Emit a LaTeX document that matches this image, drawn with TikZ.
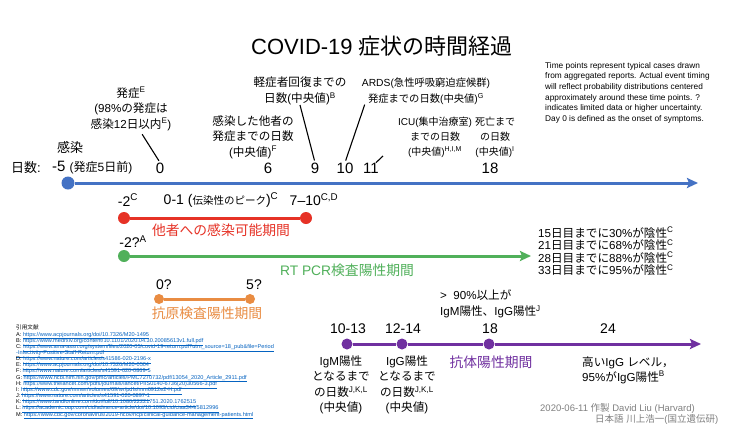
\documentclass[tikz,border=0pt]{standalone}
\usepackage{fontspec}
\setmainfont{Liberation Sans}
\newfontfamily\jpfont{Noto Sans CJK JP}
\newcommand\enfont{\rmfamily}
\usetikzlibrary{arrows.meta}

\definecolor{tlblue}{RGB}{68,114,196}
\definecolor{infred}{RGB}{230,50,38}
\definecolor{pcrgreen}{RGB}{80,176,90}
\definecolor{agorange}{RGB}{233,140,66}
\definecolor{abpurple}{RGB}{112,48,160}
\definecolor{linkblue}{RGB}{5,99,193}
\definecolor{creditgray}{RGB}{128,128,128}

\newXeTeXintercharclass\jpclass
\newcount\jpc
\newcommand\setjpclass[3]{\jpc=#1\relax\loop\XeTeXcharclass\jpc=#3\relax\ifnum\jpc<#2\advance\jpc by 1\relax\repeat}
\setjpclass{"3000}{"30FF}{\jpclass}
\setjpclass{"4E00}{"9FFF}{\jpclass}
\setjpclass{"FF00}{"FFEF}{\jpclass}
\setjpclass{"0021}{"007E}{0}
\XeTeXcharclass"2013=0
\XeTeXinterchartoks 0 \jpclass = {\jpfont}
\XeTeXinterchartoks 4095 \jpclass = {\jpfont}
\XeTeXinterchartoks \jpclass 0 = {\enfont}
\XeTeXinterchartoks \jpclass 4095 = {\enfont}
\XeTeXinterchartokenstate=1

\newcommand\reflink[1]{\textcolor{linkblue}{\underline{#1}}}
\newcommand\reffont{\fontsize{5.6}{6.15}\selectfont\lineskiplimit=-10pt\relax}

\begin{document}
\begin{tikzpicture}[x=1pt,y=-1pt,
  lbl/.style={inner sep=0pt,align=center,font=\fontsize{11.6}{15.5}\selectfont},
  smlbl/.style={inner sep=0pt,align=center,font=\fontsize{10}{15}\selectfont},
  daynum/.style={inner sep=0pt,font=\fontsize{15}{18}\selectfont},
  tick/.style={inner sep=0pt,font=\fontsize{14}{17}\selectfont},
  period/.style={inner sep=0pt,font=\fontsize{13.8}{17}\selectfont},
  tdot/.style={circle,fill=#1,inner sep=0pt,minimum size=12pt},
  bar/.style={line width=3pt,draw=#1},
  lead/.style={line width=1.1pt},
  tip/.style={-{Stealth[length=11pt,width=10pt,inset=2pt]}}]
\useasboundingbox (0,0) rectangle (750,437);
\fill[white] (0,0) rectangle (750,437);

\node[inner sep=0pt,font=\fontsize{22}{26}\selectfont] (title) at (382,46) {COVID-19 症状の時間経過};
\node[anchor=north west,inner sep=0pt,align=left,font=\fontsize{8.3}{10.6}\selectfont] (note) at (545,62) {Time points represent typical cases drawn\\from aggregated reports. Actual event timing\\will reflect probability distributions centered\\approximately around these time points. ?\\indicates limited data or higher uncertainty.\\Day 0 is defined as the onset of symptoms.};

\node[inner sep=0pt,font=\fontsize{13}{15}\selectfont] (daylbl) at (26,168) {日数:};
\node[daynum,anchor=west] (dm5) at (52,168) {-5 {\fontsize{12}{14}\selectfont(発症5日前)}};
\node[daynum] (d0) at (160,168) {0};
\node[daynum] (d6) at (268,168) {6};
\node[daynum] (d9) at (315,168) {9};
\node[daynum] (d10) at (345,168) {10};
\node[daynum] (d11) at (371,168) {11};
\node[daynum] (d18) at (490,168) {18};

\node[inner sep=0pt,font=\fontsize{13}{15}\selectfont] (labinf) at (70,148) {感染};
\node[lbl] (labonset) at (131,109) {発症\textsuperscript{E}\\(98\%の発症は\\感染12日以内\textsuperscript{E})};
\node[lbl] (labspread) at (253,137) {感染した他者の\\発症までの日数\\(中央値)\textsuperscript{F}};
\node[lbl] (labmild) at (300,91) {軽症者回復までの\\日数(中央値)\textsuperscript{B}};
\node[smlbl,font=\fontsize{10.3}{16}\selectfont] (labards) at (426,91) {ARDS(急性呼吸窮迫症候群)\\発症までの日数(中央値)\textsuperscript{G}};
\node[smlbl] (labicu) at (435,137) {ICU(集中治療室)\\までの日数\\(中央値)\textsuperscript{H,I,M}};
\node[smlbl] (labdeath) at (495,137) {死亡まで\\の日数\\(中央値)\textsuperscript{I}};

\draw[lead,shorten <=4pt,shorten >=2pt] ([xshift=9pt]labonset.south) -- (d0.north);
\draw[lead,shorten >=2pt] (labmild.south) -- (d9.north);
\draw[lead,shorten >=2pt] ([xshift=3pt]labards.south west) -- (d10.north);
\coordinate (icutip) at (383,156);
\draw[lead] ([xshift=-3pt]d11.north east) -- (icutip);

\node[tdot=tlblue,minimum size=13pt] (inf) at (68,183) {};
\coordinate (tlend) at (698,183);
\draw[bar=tlblue,tip] (inf) -- (tlend);

\node[tick] (t1) at (128,200) {-2\textsuperscript{C}};
\node[tick] (t2) at (221,200) {0-1 ({\fontsize{10.5}{12}\selectfont 伝染性のピーク})\textsuperscript{C}};
\node[tick] (t3) at (314,200) {7–10\textsuperscript{C,D}};
\node[tdot=infred] (inf1) at (124,218) {};
\node[tdot=infred] (inf2) at (306,218) {};
\draw[bar=infred] (inf1) -- (inf2);
\node[period,text=infred] (infper) at (221,230) {他者への感染可能期間};

\node[tick] (t4) at (133,242) {-2?\textsuperscript{A}};
\node[tdot=pcrgreen] (pcr1) at (124,256) {};
\coordinate (pcrend) at (531,256);
\draw[bar=pcrgreen,tip] (pcr1) -- (pcrend);
\node[period,text=pcrgreen] (pcrper) at (347,270) {RT PCR検査陽性期間};
\node[lbl,align=left,anchor=west,font=\fontsize{11.6}{12.5}\selectfont] (pcrneg) at (538,251.5) {15日目までに30\%が陰性\textsuperscript{C}\\21日目までに68\%が陰性\textsuperscript{C}\\28日目までに88\%が陰性\textsuperscript{C}\\33日目までに95\%が陰性\textsuperscript{C}};

\node[tick] (t5) at (164,285) {0?};
\node[tick] (t6) at (254,285) {5?};
\node[tdot=agorange,minimum size=10pt] (ag1) at (159,299) {};
\node[tdot=agorange,minimum size=10pt] (ag2) at (250,299) {};
\draw[bar=agorange] (ag1) -- (ag2);
\node[period,text=agorange] (agper) at (207,313) {抗原検査陽性期間};

\node[lbl,align=left,anchor=west,font=\fontsize{11.6}{16}\selectfont] (ab90) at (440,304) {>\ \ 90\%以上が\\IgM陽性、IgG陽性\textsuperscript{J}};
\node[tick] (a1) at (348,329) {10-13};
\node[tick] (a2) at (403,329) {12-14};
\node[tick] (a3) at (490,329) {18};
\node[tick] (a4) at (608,329) {24};
\node[tdot=abpurple,minimum size=11pt] (ab1) at (347,344) {};
\node[tdot=abpurple,minimum size=11pt] (ab2) at (402,344) {};
\node[tdot=abpurple,minimum size=11pt] (ab3) at (489,344) {};
\coordinate (abend) at (701,344);
\draw[bar=abpurple] (ab1) -- (ab2) -- (ab3);
\draw[bar=abpurple,tip] (ab3) -- (abend);
\node[lbl] (labigm) at (341,385) {IgM陽性\\となるまで\\の日数\textsuperscript{J,K,L}\\(中央値)};
\node[lbl] (labigg) at (407,385) {IgG陽性\\となるまで\\の日数\textsuperscript{J,K,L}\\(中央値)};
\node[period,text=abpurple] (abper) at (491,362) {抗体陽性期間};
\node[lbl,align=left,anchor=west,font=\fontsize{11.6}{15}\selectfont] (highigg) at (582,370) {高いIgG レベル，\\95\%がIgG陽性\textsuperscript{B}};

\node[inner sep=0pt,anchor=west,text=creditgray,font=\fontsize{9.5}{11}\selectfont] (cred1) at (540,408) {2020-06-11 作製 David Liu (Harvard)};
\node[inner sep=0pt,anchor=west,text=creditgray,font=\fontsize{9.5}{11}\selectfont] (cred2) at (595,419) {日本語 川上浩一(国立遺伝研)};

\node[anchor=north west,inner sep=0pt,align=left,font=\reffont] (refs) at (16,325) {引用文献\\
A: \reflink{https://www.acpjournals.org/doi/10.7326/M20-1495}\\
B: \reflink{https://www.medrxiv.org/content/10.1101/2020.04.30.20085613v1.full.pdf}\\
C: \reflink{https://www.ama-assn.org/system/files/2020-05/covid-19-return.pdf?utm\_source=18\_pub\&file=Period}\\
\reflink{-Infectivity-Positive-Staff-Return.pdf}\\
D: \reflink{https://www.nature.com/articles/s41586-020-2196-x}\\
E: \reflink{https://www.acpjournals.org/doi/10.7326/M20-0504}\\
F: \reflink{https://www.nature.com/articles/s41591-020-0869-5}\\
G: \reflink{https://www.ncbi.nlm.nih.gov/pmc/articles/PMC7270732/pdf/13054\_2020\_Article\_2911.pdf}\\
H: \reflink{https://www.thelancet.com/pdfs/journals/lancet/PIIS0140-6736(20)30566-3.pdf}\\
I: \reflink{https://www.cdc.gov/mmwr/volumes/69/wr/pdfs/mm6912e2-H.pdf}\\
J: \reflink{https://www.nature.com/articles/s41591-020-0897-1}\\
K: \reflink{https://www.tandfonline.com/doi/full/10.1080/22221751.2020.1762515}\\
L: \reflink{https://academic.oup.com/cid/advance-article/doi/10.1093/cid/ciaa344/5812996}\\
M: \reflink{https://www.cdc.gov/coronavirus/2019-ncov/hcp/clinical-guidance-management-patients.html}};
\end{tikzpicture}
\end{document}
